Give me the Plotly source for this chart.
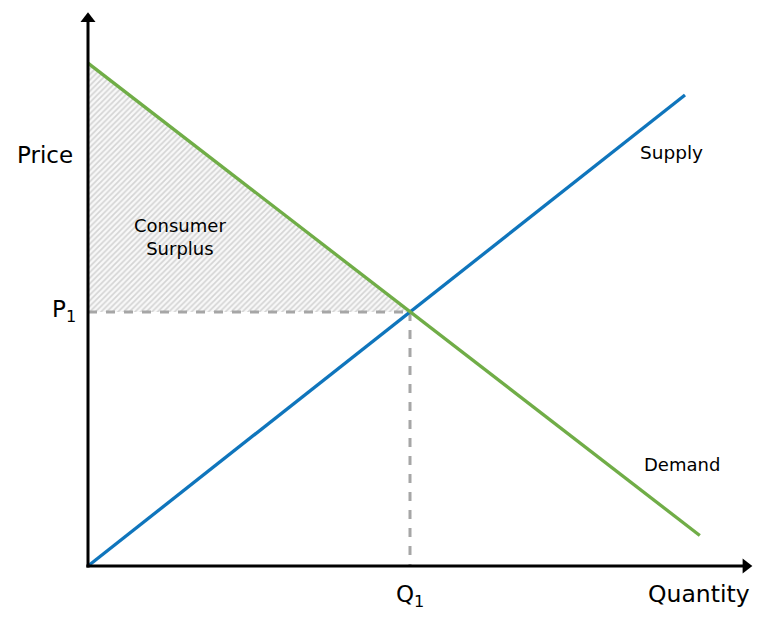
import plotly.graph_objects as go

# Economic data (model units)
demand_q = [0, 19.0]
demand_p = [19.8, 1.2]
supply_q = [0, 18.54]
supply_p = [0, 18.54]
Q1 = 10.0
P1 = 10.0
surplus_q = [0, 0, Q1, 0]
surplus_p = [P1, 19.8, P1, P1]
axis_x_end = 20.43
axis_y_end = 21.54

FONT = "DejaVu Sans"
fig = go.Figure()

# Consumer surplus hatched area
fig.add_trace(go.Scatter(x=surplus_q, y=surplus_p, mode="lines", fill="toself",
                         line=dict(width=0, color="rgba(0,0,0,0)"),
                         fillcolor="rgba(255,255,255,0)",
                         fillpattern=dict(shape="/", fgcolor="#b0b0b0", bgcolor="#f8f8f8",
                                          size=4, solidity=0.4),
                         hoverinfo="skip"))

# Dashed guide lines
fig.add_trace(go.Scatter(x=[0, Q1], y=[P1, P1], mode="lines",
                         line=dict(color="#A6A6A6", width=3, dash="dash")))
fig.add_trace(go.Scatter(x=[Q1, Q1], y=[P1, 0], mode="lines",
                         line=dict(color="#A6A6A6", width=3, dash="dash")))

# Supply and demand
fig.add_trace(go.Scatter(x=supply_q, y=supply_p, mode="lines",
                         line=dict(color="#0F75BC", width=3.3)))
fig.add_trace(go.Scatter(x=demand_q, y=demand_p, mode="lines",
                         line=dict(color="#70AD47", width=3.3)))

# Axes with arrowheads
fig.add_trace(go.Scatter(x=[0, 0], y=[-0.06, axis_y_end], mode="lines",
                         line=dict(color="black", width=3)))
fig.add_trace(go.Scatter(x=[-0.05, axis_x_end], y=[0, 0], mode="lines",
                         line=dict(color="black", width=3)))
fig.add_trace(go.Scatter(x=[0], y=[axis_y_end], mode="markers",
                         marker=dict(symbol="triangle-up", size=13, color="black", line=dict(width=0))))
fig.add_trace(go.Scatter(x=[axis_x_end], y=[0], mode="markers",
                         marker=dict(symbol="triangle-right", size=13, color="black", line=dict(width=0))))

ann = []

def txt(x, y, t, size, xanchor="center"):
    ann.append(dict(x=x, y=y, text=t, showarrow=False, xanchor=xanchor, yanchor="middle",
                    font=dict(family=FONT, size=size, color="black")))

txt(-1.33, 16.2, "Price", 23)
txt(-0.32, 10.05, "P<sub>1</sub>", 23, "right")
txt(Q1, -1.2, "Q<sub>1</sub>", 23)
txt(18.96, -1.1, "Quantity", 23.5)
txt(18.12, 16.26, "Supply", 18.5)
txt(18.44, 3.98, "Demand", 18)
txt(2.86, 12.95, "Consumer<br>Surplus", 18)

fig.update_layout(
    width=768, height=622, margin=dict(l=0, r=0, t=0, b=0),
    paper_bgcolor="white", plot_bgcolor="white", showlegend=False,
    hovermode=False,
    xaxis=dict(range=[-2.733, 21.118], visible=False, fixedrange=True),
    yaxis=dict(range=[-2.205, 22.283], visible=False, fixedrange=True),
    annotations=ann,
)
fig.write_html("out.html", config={"displayModeBar": False},
               post_script="document.body.style.margin='0';")
